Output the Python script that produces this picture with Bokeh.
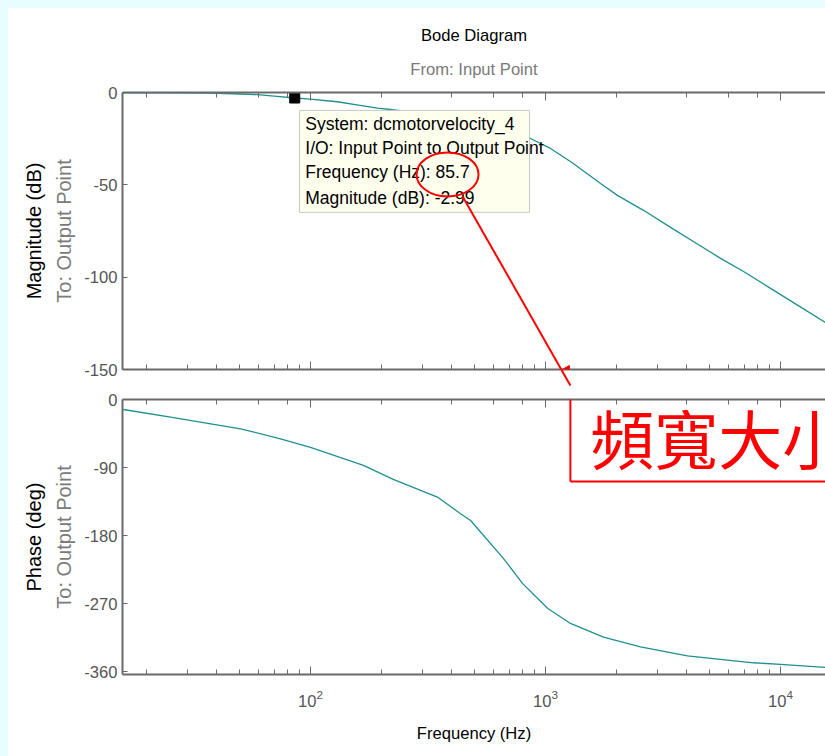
import math
from bokeh.plotting import figure
from bokeh.layouts import column
from bokeh.models import (Range1d, LogAxis, LinearAxis, FixedTicker, LogTicker,
                          BoxAnnotation, Label, Arrow, NormalHead, Title)
from bokeh.embed import file_html
from bokeh.resources import INLINE

# ---------------- data ----------------
mag_freq = [15.85, 25, 37.4, 50, 59.5, 70, 85.7, 97, 130, 160, 193, 219, 300, 450, 650,
            863, 1050, 1300, 1715, 2023, 2612, 3500, 4500, 5558, 6965, 9000, 12000, 15530]
mag_db = [-0.15, -0.18, -0.3, -0.8, -1.2, -2.0, -2.99, -3.4, -5.0, -6.8, -8.5, -9.2, -11.5, -15.5, -20.0,
          -24.9, -30.3, -38.0, -49.3, -55.7, -63.8, -74.0, -82.6, -89.8, -96.9, -105.8, -115.7, -124.5]

ph_freq = [15.96, 25.4, 50.4, 74.5, 100, 168, 225, 347, 435, 480, 662, 798, 1020, 1277,
           1765, 2535, 4018, 7670, 10000, 15530]
ph_deg = [-13.2, -23.4, -38.7, -51.9, -63.2, -87.1, -105.6, -129, -151, -160, -210, -243, -276, -296,
          -314, -327, -339, -348, -350, -354]

marker_freq = [85.7]
marker_db = [-2.99]

mag_ticks = [0, -50, -100, -150]
ph_ticks = [0, -90, -180, -270, -360]

tip_lines = ["System: dcmotorvelocity_4",
             "I/O: Input Point to Output Point",
             "Frequency (Hz): 85.7",
             "Magnitude (dB): -2.99"]

title_text = "Bode Diagram"
subtitle_text = "From: Input Point"
row_text = "To: Output Point"
note_text = "頻寬大小"

# ---------------- style ----------------
FONT = "Liberation Sans"
HSIZE = "16.6px"
AX = "#6a6a6a"
TICKLAB = "#555555"
SUB = "#7a7a7a"
CURVE = "#1f8f8f"
XR = (10 ** 1.2, 10 ** 4.1915)


def style_x(ax, labels=False):
    ax.axis_line_color = AX
    ax.axis_line_width = 2
    ax.major_tick_line_color = AX
    ax.minor_tick_line_color = AX
    ax.major_tick_in = 8
    ax.major_tick_out = 0
    ax.minor_tick_in = 5
    ax.minor_tick_out = 0
    if labels:
        ax.major_label_text_font = FONT
        ax.major_label_text_font_size = HSIZE
        ax.major_label_text_color = TICKLAB
        ax.major_label_standoff = 15
    else:
        ax.major_label_text_font_size = "1px"
        ax.major_label_text_color = None
        ax.major_label_standoff = 0


def style_y(p, ticks, outer_label):
    ax = p.yaxis[0]
    ax.ticker = FixedTicker(ticks=ticks)
    ax.major_label_overrides = {t: str(t) for t in ticks}
    ax.axis_line_color = AX
    ax.axis_line_width = 2
    ax.major_tick_line_color = AX
    ax.major_tick_in = 5
    ax.major_tick_out = 0
    ax.minor_tick_line_color = None
    ax.major_label_text_font = FONT
    ax.major_label_text_font_size = HSIZE
    ax.major_label_text_color = TICKLAB
    ax.major_label_standoff = 5
    ax.axis_label = row_text
    ax.axis_label_text_font = FONT
    ax.axis_label_text_font_size = "20px"
    ax.axis_label_text_font_style = "normal"
    ax.axis_label_text_color = SUB
    ax.axis_label_standoff = 6
    ax2 = LinearAxis(ticker=FixedTicker(ticks=[0]), axis_line_color=None,
                     major_tick_line_color=None, minor_tick_line_color=None,
                     major_label_text_font_size="1px", major_label_text_color=None,
                     major_label_standoff=0,
                     axis_label=outer_label, axis_label_text_font=FONT,
                     axis_label_text_font_size="20px", axis_label_text_font_style="normal",
                     axis_label_text_color="black", axis_label_standoff=0)
    p.add_layout(ax2, "left")


def base_fig(height, yr, top, bottom):
    p = figure(width=817, height=height, x_axis_type="log",
               x_range=Range1d(*XR), y_range=Range1d(*yr),
               output_backend="svg", toolbar_location=None,
               min_border_left=114, min_border_right=0,
               min_border_top=top, min_border_bottom=bottom,
               background_fill_color="white", border_fill_color="white")
    p.grid.visible = False
    p.outline_line_color = None
    top_ax = LogAxis(ticker=LogTicker())
    style_x(top_ax)
    p.add_layout(top_ax, "above")
    return p


def red_segment(p, x0, y0, x1, y1, head=None):
    p.add_layout(Arrow(start=None, end=head, x_start=x0, y_start=y0, x_end=x1, y_end=y1,
                       line_color="red", line_width=2))


# ---------------- magnitude ----------------
p1 = base_fig(382, (-150, 0), 84, 21)
for ax in p1.below:
    style_x(ax)
style_y(p1, mag_ticks, "Magnitude (dB)")

p1.add_layout(Title(text=subtitle_text, align="center", text_font=FONT,
                    text_font_size=HSIZE, text_font_style="normal",
                    text_color=SUB, standoff=27), "above")
p1.add_layout(Title(text=title_text, align="center", text_font=FONT,
                    text_font_size=HSIZE, text_font_style="normal",
                    text_color="black", standoff=0), "above")

p1.line(mag_freq, mag_db, line_color=CURVE, line_width=1.3)
p1.scatter(marker_freq, marker_db, marker="square", size=10, color="black")

p1.add_layout(BoxAnnotation(left=89.8, right=855, top=-9.7, bottom=-64.9,
                            fill_color="#ffffee", fill_alpha=1, line_color="#c8c8c8",
                            line_alpha=1, line_width=1))
for txt, yy in zip(tip_lines, [-17.3, -30.3, -43.3, -56.9]):
    p1.add_layout(Label(x=95, y=yy, text=txt, text_font=FONT, text_font_size="17.5px",
                        text_color="black", text_baseline="middle"))

p1.ellipse(x=[383], y=[-44.4], width=62, height=44, width_units="screen",
           height_units="screen", fill_color=None, line_color="red", line_width=2,
           level="overlay")
# arrow to the note box, and the note box's top-left corner (in this figure's border)
red_segment(p1, 444, -56.3, 1276, -158.7,
            head=NormalHead(size=18, fill_color="red", line_color="red"))
red_segment(p1, 1276, -158.7, 30000, -158.7)
red_segment(p1, 1276, -158.7, 1276, -175.0)

# ---------------- phase ----------------
p2 = base_fig(366, (-363.5, 0), 9, 82)
for ax in p2.below:
    style_x(ax, labels=True)
    ax.axis_label = "Frequency (Hz)"
    ax.axis_label_text_font = FONT
    ax.axis_label_text_font_size = HSIZE
    ax.axis_label_text_font_style = "normal"
    ax.axis_label_text_color = "black"
    ax.axis_label_standoff = 14
style_y(p2, ph_ticks, "Phase (deg)")

p2.line(ph_freq, ph_deg, line_color=CURVE, line_width=1.3)

# note box (left and bottom edges; right edge lies beyond the crop)
red_segment(p2, 1276, 20.0, 1276, -108.3)
red_segment(p2, 1276, -108.3, 30000, -108.3)
p2.add_layout(Label(x=1552, y=-48.8, text=note_text, text_font="Noto Sans CJK TC",
                    text_font_size="64px", text_color="red", text_baseline="middle"))

layout = column(p1, p2, spacing=0, styles={"background-color": "white"})
html = file_html(layout, INLINE)
css = ("<style>html{margin:0 !important;padding:0 !important;overflow:hidden;}"
       "body{margin:0 !important;padding:8px 0 0 8px !important;box-sizing:border-box;"
       "overflow:hidden;background:#e8fefe;}</style>")
html = html.replace("</head>", css + "</head>", 1)
open("out.html", "w").write(html)
